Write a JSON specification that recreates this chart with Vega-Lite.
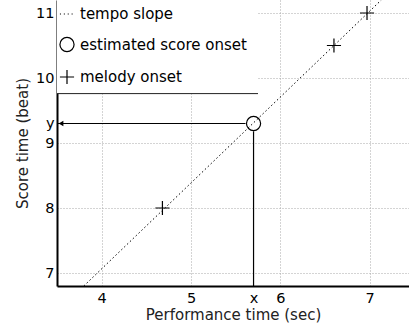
{
  "$schema": "https://vega.github.io/schema/vega-lite/v6.json",
  "width": 352,
  "height": 286,
  "autosize": {"type": "none"},
  "padding": {"left": 57, "top": 0, "right": 0, "bottom": 42},
  "background": "white",
  "config": {
    "view": {"stroke": null},
    "axis": {
      "labelFont": "DejaVu Sans",
      "labelFontSize": 14.5,
      "labelColor": "black",
      "titleFont": "DejaVu Sans",
      "titleFontSize": 15,
      "titleFontWeight": "normal",
      "titleColor": "#222",
      "domainColor": "black",
      "domainWidth": 2,
      "ticks": false,
      "tickSize": 0,
      "grid": true,
      "gridColor": "#a8a8a8",
      "gridDash": [1, 2],
      "gridWidth": 1,
      "labelOverlap": false
    }
  },
  "datasets": {
    "slope": [
      {"time": 3.8, "beat": 6.8},
      {"time": 7.13, "beat": 11.2}
    ],
    "onsets": [
      {"time": 5.7, "beat": 9.3, "series": "estimated score onset"},
      {"time": 4.68, "beat": 8, "series": "melody onset"},
      {"time": 6.6, "beat": 10.5, "series": "melody onset"},
      {"time": 6.97, "beat": 11, "series": "melody onset"}
    ],
    "one": [{"k": 1}]
  },
  "layer": [
    {
      "data": {"name": "slope"},
      "mark": {"type": "line", "color": "black", "strokeWidth": 1, "strokeDash": [1.5, 2.5]},
      "encoding": {
        "x": {
          "field": "time",
          "type": "quantitative",
          "scale": {"domain": [3.5, 7.44], "nice": false, "zero": false},
          "axis": {
            "title": "Performance time (sec)",
            "values": [4, 5, 5.7, 6, 7],
            "labelExpr": "datum.value == 5.7 ? 'x' : format(datum.value, 'd')",
            "labelPadding": 5,
            "titlePadding": 3,
            "gridOpacity": {"condition": {"test": "datum.value == 5.7", "value": 0}, "value": 1}
          }
        },
        "y": {
          "field": "beat",
          "type": "quantitative",
          "scale": {"domain": [6.8, 11.2], "nice": false, "zero": false},
          "axis": {
            "title": "Score time (beat)",
            "values": [7, 8, 9, 9.3, 10, 11],
            "labelExpr": "datum.value == 9.3 ? 'y' : format(datum.value, 'd')",
            "labelPadding": 3,
            "titlePadding": 5,
            "gridOpacity": {"condition": {"test": "datum.value == 9.3", "value": 0}, "value": 1}
          }
        }
      }
    },
    {
      "data": {"name": "one"},
      "mark": {"type": "rect", "fill": "white"},
      "encoding": {
        "x": {"datum": 3.5, "type": "quantitative"},
        "x2": {"datum": 5.75},
        "y": {"datum": 9.76, "type": "quantitative"},
        "y2": {"datum": 11.2}
      }
    },
    {
      "data": {"name": "one"},
      "mark": {"type": "rule", "color": "#222", "strokeWidth": 1},
      "encoding": {
        "x": {"datum": 3.5, "type": "quantitative"},
        "x2": {"datum": 5.75},
        "y": {"datum": 9.76, "type": "quantitative"}
      }
    },
    {
      "data": {"name": "one"},
      "mark": {"type": "rule", "color": "black", "strokeWidth": 1.2},
      "encoding": {
        "x": {"datum": 3.5, "type": "quantitative"},
        "x2": {"datum": 5.61},
        "y": {"datum": 9.3, "type": "quantitative"}
      }
    },
    {
      "data": {"name": "one"},
      "mark": {"type": "rule", "color": "black", "strokeWidth": 1.2},
      "encoding": {
        "x": {"datum": 5.7, "type": "quantitative"},
        "y": {"datum": 6.8, "type": "quantitative"},
        "y2": {"datum": 9.18}
      }
    },
    {
      "data": {"name": "one"},
      "mark": {"type": "point", "shape": "triangle-left", "filled": true, "color": "black", "size": 30, "opacity": 1},
      "encoding": {
        "x": {"datum": 3.545, "type": "quantitative"},
        "y": {"datum": 9.3, "type": "quantitative"}
      }
    },
    {
      "data": {"name": "onsets"},
      "mark": {"type": "point", "filled": false, "color": "black", "strokeWidth": 1.2, "size": 200, "opacity": 1},
      "encoding": {
        "x": {"field": "time", "type": "quantitative"},
        "y": {"field": "beat", "type": "quantitative"},
        "shape": {
          "field": "series",
          "type": "nominal",
          "scale": {
            "domain": ["tempo slope", "estimated score onset", "melody onset"],
            "range": ["M-1,0H-0.85M-0.45,0H-0.3M0.1,0H0.25M0.65,0H0.8", "circle", "M-1,0H1M0,-1V1"]
          },
          "legend": {
            "title": null,
            "orient": "none",
            "legendX": 0,
            "legendY": 4,
            "padding": 2,
            "symbolSize": 200,
            "symbolStrokeWidth": 1.2,
            "symbolStrokeColor": "black",
            "symbolFillColor": "transparent",
            "labelFont": "DejaVu Sans",
            "labelFontSize": 15,
            "labelColor": "black",
            "labelOffset": 5,
            "rowPadding": 12.5,
            "labelLimit": 300
          }
        }
      }
    }
  ]
}
